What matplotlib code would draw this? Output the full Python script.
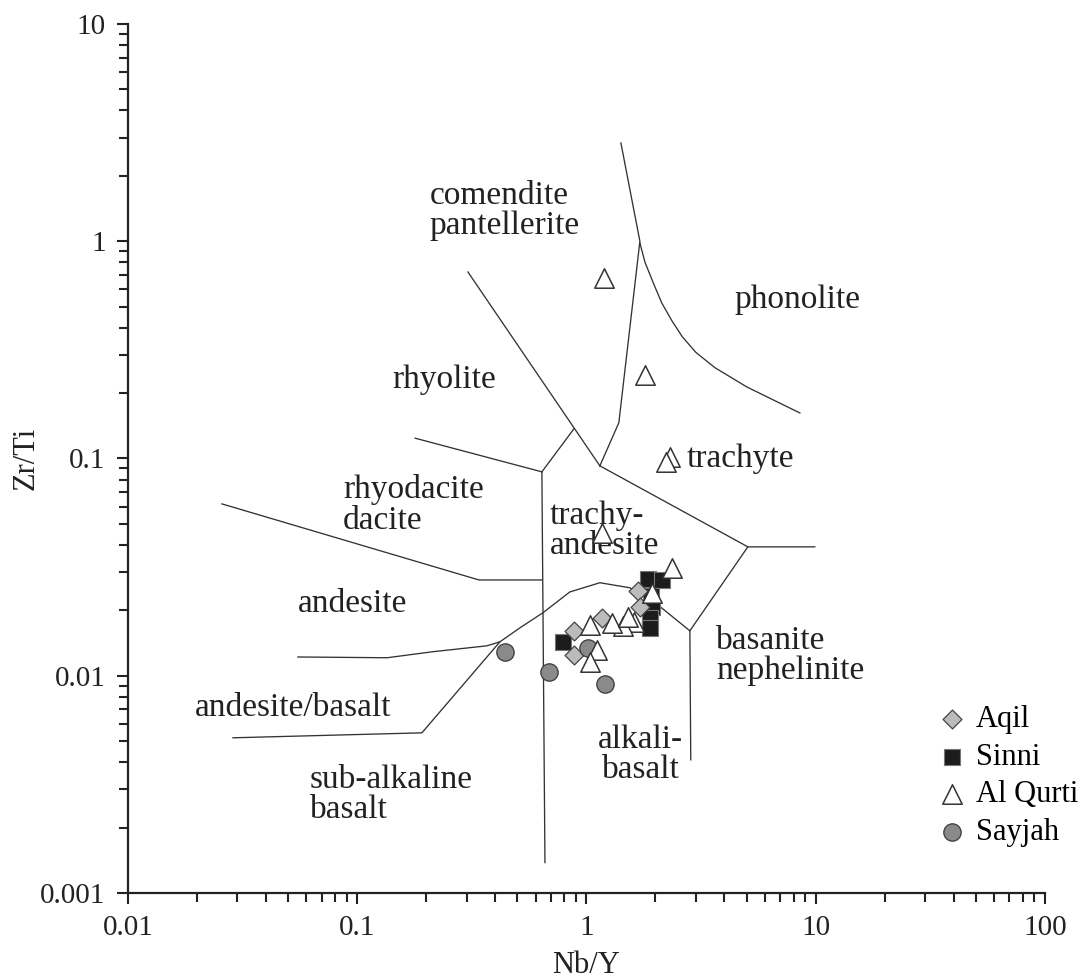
import matplotlib
matplotlib.use("Agg")
import matplotlib.pyplot as plt
from matplotlib.ticker import FixedLocator, LogLocator, NullFormatter, FuncFormatter

plt.rcParams["font.family"] = ["Liberation Serif", "DejaVu Serif"]

# sample data (Nb/Y, Zr/Ti)
aqil_x = [0.881, 0.881, 1.167, 1.676, 1.710]
aqil_y = [0.0161, 0.01247, 0.01847, 0.0246, 0.02075]
sinni_x = [0.789, 1.853, 2.133, 1.909, 1.929, 1.891, 1.891]
sinni_y = [0.01432, 0.0279, 0.0276, 0.0233, 0.02075, 0.01847, 0.0166]
qurti_x = [1.191, 1.798, 2.311, 2.220, 1.167, 2.357, 1.929, 1.609, 1.441,
           1.290, 1.035, 1.515, 1.110, 1.035]
qurti_y = [0.678, 0.2425, 0.1017, 0.0965, 0.0455, 0.0314, 0.0241, 0.0177, 0.0170,
           0.0175, 0.0171, 0.01866, 0.01315, 0.01159]
sayjah_x = [0.4406, 0.6855, 1.203, 1.014]
sayjah_y = [0.01288, 0.01042, 0.00918, 0.01344]

# field boundaries of the Winchester & Floyd diagram
boundaries = [
    ([0.179, 0.639], [0.124, 0.0868]),
    ([0.639, 0.881], [0.0868, 0.1368]),
    ([0.304, 1.144], [0.722, 0.0925]),
    ([1.413, 1.71, 1.384, 1.144], [2.835, 1.0, 0.146, 0.0925]),
    ([1.71, 1.80, 1.96, 2.13, 2.36, 2.62, 3.0, 3.63, 5.0, 8.53],
     [0.982, 0.80, 0.64, 0.52, 0.43, 0.363, 0.308, 0.262, 0.2136, 0.162]),
    ([1.144, 5.057, 9.91], [0.0925, 0.0392, 0.0392]),
    ([5.057, 2.825, 2.85], [0.0392, 0.0161, 0.0041]),
    ([0.0257, 0.3395, 0.639], [0.0618, 0.0276, 0.0276]),
    ([0.639, 0.659], [0.0868, 0.00138]),
    ([0.0287, 0.1915, 0.419], [0.00518, 0.00546, 0.01432]),
    ([0.0551, 0.135, 0.2138, 0.3678, 0.419, 0.512, 0.646, 0.846, 1.144, 1.546,
      2.048, 2.825],
     [0.0122, 0.0121, 0.0129, 0.01373, 0.01432, 0.0166, 0.0195, 0.0243, 0.0268,
      0.0254, 0.0212, 0.0161]),
]

field_names = ["comendite\npantellerite", "phonolite", "rhyolite", "trachyte",
               "rhyodacite\ndacite", "trachy-\nandesite", "andesite",
               "basanite\nnephelinite", "andesite/basalt", "alkali-\nbasalt",
               "sub-alkaline\nbasalt"]
field_x = [0.2075, 4.438, 0.1416, 2.741, 0.0866, 0.692, 0.0551, 3.667, 0.0196,
           1.727, 0.0622]
field_y = [1.379, 0.537, 0.230, 0.0996, 0.0612, 0.0465, 0.02143, 0.01235,
           0.00712, 0.00433, 0.00283]
field_ha = ["left", "left", "left", "left", "left", "left", "left", "left",
            "left", "center", "left"]

fig = plt.figure(figsize=(10.9, 9.8), dpi=100)
ax = fig.add_axes([0.1174, 0.0888, 0.8413, 0.8867])
ax.set_xscale("log")
ax.set_yscale("log")
ax.set_xlim(0.01, 100)
ax.set_ylim(0.001, 10)

for bx, by in boundaries:
    ax.plot(bx, by, color="#333333", lw=0.95, zorder=1)

for name, tx, ty, ha in zip(field_names, field_x, field_y, field_ha):
    ax.text(tx, ty, name, ha=ha, va="center", fontsize=24, color="#222222",
            linespacing=1.0, multialignment=ha, zorder=2)

h_sinni = ax.scatter(sinni_x, sinni_y, marker="s", s=11.5 ** 2, c="#1c1c1c",
                     edgecolors="#777777", linewidths=0.8, zorder=3, label="Sinni")
h_aqil = ax.scatter(aqil_x, aqil_y, marker="D", s=9.6 ** 2, c="#bbbbbb",
                    edgecolors="#444444", linewidths=0.9, zorder=4, label="Aqil")
h_sayjah = ax.scatter(sayjah_x, sayjah_y, marker="o", s=12.5 ** 2, c="#8a8a8a",
                      edgecolors="#3a3a3a", linewidths=0.9, zorder=5, label="Sayjah")
h_qurti = ax.scatter(qurti_x, qurti_y, marker="^", s=14 ** 2, c="white",
                     edgecolors="#333333", linewidths=1.1, zorder=6, label="Al Qurti")

ax.legend(handles=[h_aqil, h_sinni, h_qurti, h_sayjah], loc="upper left",
          bbox_to_anchor=(0.880, 0.216), frameon=False, fontsize=22,
          handlelength=1.1, handletextpad=0.25, labelspacing=0.28,
          borderpad=0, borderaxespad=0)

for s in ["top", "right"]:
    ax.spines[s].set_visible(False)
for s in ["left", "bottom"]:
    ax.spines[s].set_linewidth(1.6)
    ax.spines[s].set_color("#222222")

fmt = FuncFormatter(lambda v, p: f"{v:g}")
for axis, ticks in [(ax.xaxis, [0.01, 0.1, 1, 10, 100]),
                    (ax.yaxis, [0.001, 0.01, 0.1, 1, 10])]:
    axis.set_major_locator(FixedLocator(ticks))
    axis.set_major_formatter(fmt)
    axis.set_minor_locator(LogLocator(base=10, subs=range(2, 10)))
    axis.set_minor_formatter(NullFormatter())
ax.tick_params(which="major", direction="out", length=8, width=1.5,
               labelsize=21, colors="#222222", pad=8)
ax.tick_params(which="minor", direction="out", length=6.5, width=1.5,
               colors="#222222")

ax.set_xlabel("Nb/Y", fontsize=22, color="#222222", labelpad=7)
ax.set_ylabel("Zr/Ti", fontsize=22, color="#222222", labelpad=0)

fig.savefig("out.png", dpi=100)
plt.close(fig)
